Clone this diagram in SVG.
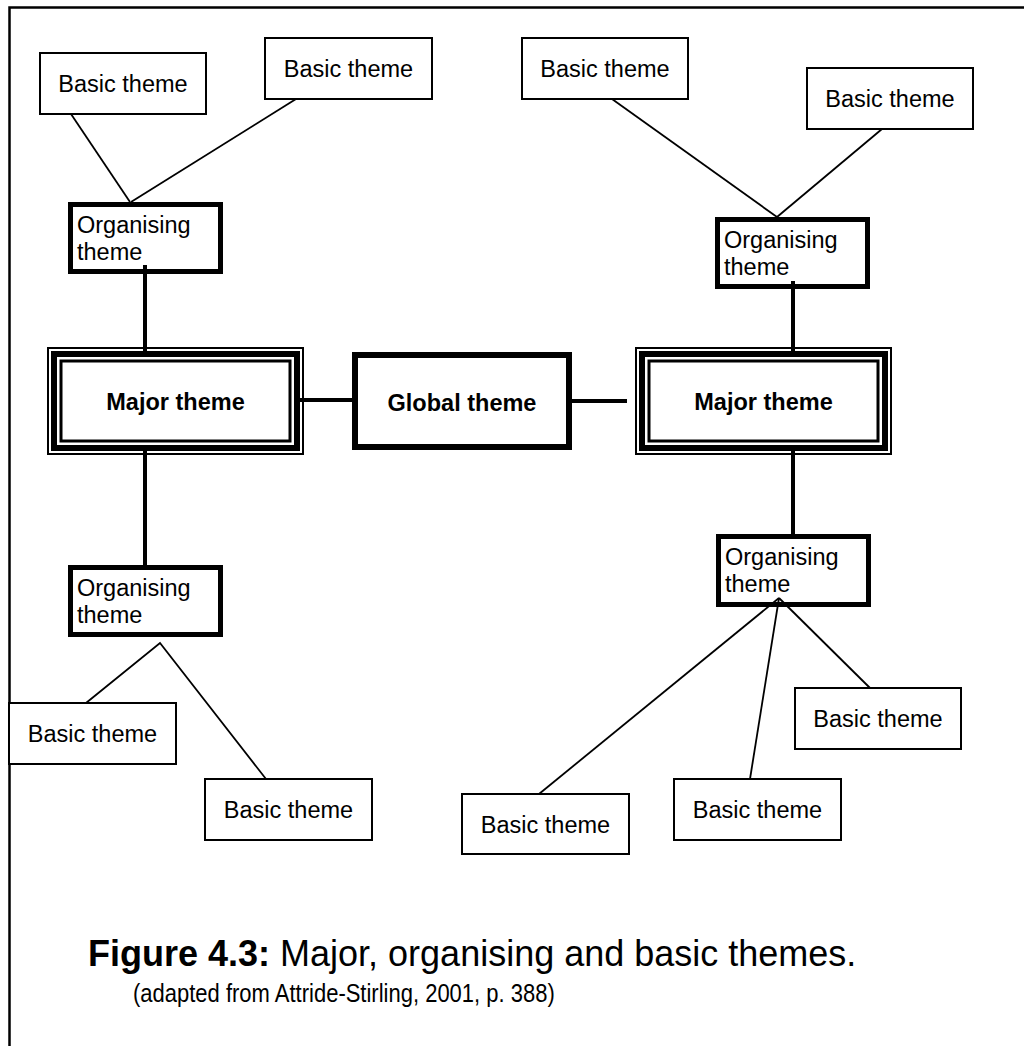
<svg xmlns="http://www.w3.org/2000/svg" width="1024" height="1046" viewBox="0 0 1024 1046">
<style>
  text { font-family: "Liberation Sans", Arial, sans-serif; fill: #000; }
  .lbl { font-size: 23.5px; }
  .mid { text-anchor: middle; }
  .bold { font-weight: bold; }
  .basic { fill: #fff; stroke: #000; stroke-width: 2; }
  .org { fill: #fff; stroke: #000; stroke-width: 5; }
  .glob { fill: #fff; stroke: #000; stroke-width: 6; }
  .m1 { fill: #fff; stroke: #000; stroke-width: 2; }
  .m2 { fill: none; stroke: #000; stroke-width: 6; }
  .m3 { fill: none; stroke: #000; stroke-width: 3; }
  .thin { stroke: #000; stroke-width: 1.8; fill: none; }
  .thick { stroke: #000; stroke-width: 4; fill: none; }
  .frame { stroke: #000; stroke-width: 2.5; fill: none; }
</style>
<rect x="0" y="0" width="1024" height="1046" fill="#fff"/>
<g id="frame">
  <path class="frame" d="M9.5,1046 V7.5 H1024"/>
</g>

<g id="basic1"><rect class="basic" x="40" y="53" width="166" height="61"/><text class="lbl mid" x="123" y="92">Basic theme</text></g>
<g id="basic2"><rect class="basic" x="265" y="38" width="167" height="61"/><text class="lbl mid" x="348.5" y="77">Basic theme</text></g>
<g id="basic3"><rect class="basic" x="522" y="38" width="166" height="61"/><text class="lbl mid" x="605" y="77">Basic theme</text></g>
<g id="basic4"><rect class="basic" x="807" y="68" width="166" height="61"/><text class="lbl mid" x="890" y="107">Basic theme</text></g>
<g id="basic5"><rect class="basic" x="9" y="703" width="167" height="61"/><text class="lbl mid" x="92.5" y="742">Basic theme</text></g>
<g id="basic6"><rect class="basic" x="205" y="779" width="167" height="61"/><text class="lbl mid" x="288.5" y="818">Basic theme</text></g>
<g id="basic7"><rect class="basic" x="795" y="688" width="166" height="61"/><text class="lbl mid" x="878" y="727">Basic theme</text></g>
<g id="basic8"><rect class="basic" x="674" y="779" width="167" height="61"/><text class="lbl mid" x="757.5" y="818">Basic theme</text></g>
<g id="basic9"><rect class="basic" x="462" y="794" width="167" height="60"/><text class="lbl mid" x="545.5" y="832.5">Basic theme</text></g>

<g id="org-tl"><rect class="org" x="70.5" y="204.5" width="150" height="67"/><text class="lbl" x="77" y="233">Organising</text><text class="lbl" x="77" y="260">theme</text></g>
<g id="org-tr"><rect class="org" x="717.5" y="219.5" width="150" height="67"/><text class="lbl" x="724" y="248">Organising</text><text class="lbl" x="724" y="275">theme</text></g>
<g id="org-bl"><rect class="org" x="70.5" y="567.5" width="150" height="67"/><text class="lbl" x="77" y="596">Organising</text><text class="lbl" x="77" y="623">theme</text></g>
<g id="org-br"><rect class="org" x="718.5" y="536.5" width="150" height="68"/><text class="lbl" x="725" y="565">Organising</text><text class="lbl" x="725" y="592">theme</text></g>

<g id="major-left">
  <rect class="m1" x="48" y="348" width="255" height="106"/>
  <rect class="m2" x="54" y="354" width="243" height="94"/>
  <rect class="m3" x="61" y="361" width="229" height="80"/>
  <text class="lbl mid bold" x="175.5" y="410">Major theme</text>
</g>
<g id="major-right">
  <rect class="m1" x="636" y="348" width="255" height="106"/>
  <rect class="m2" x="642" y="354" width="243" height="94"/>
  <rect class="m3" x="649" y="361" width="229" height="80"/>
  <text class="lbl mid bold" x="763.5" y="410">Major theme</text>
</g>
<g id="global">
  <rect class="glob" x="355" y="355" width="214" height="92"/>
  <text class="lbl mid bold" x="462" y="411">Global theme</text>
</g>

<g id="connectors">
  <line class="thin" x1="71" y1="114" x2="130" y2="202"/>
  <line class="thin" x1="296" y1="99" x2="131" y2="202"/>
  <line class="thin" x1="612" y1="99" x2="777" y2="217"/>
  <line class="thin" x1="882" y1="129" x2="777" y2="217"/>
  <polyline class="thin" points="86,703 160,643 266,779"/>
  <line class="thin" x1="539" y1="794" x2="779" y2="598"/>
  <line class="thin" x1="750" y1="779" x2="779" y2="598"/>
  <line class="thin" x1="870" y1="688" x2="779" y2="598"/>
  <line class="thick" x1="145" y1="265" x2="145" y2="352"/>
  <line class="thick" x1="145" y1="449" x2="145" y2="567"/>
  <line class="thick" x1="793" y1="281" x2="793" y2="352"/>
  <line class="thick" x1="793" y1="449" x2="793" y2="536"/>
  <line class="thick" x1="300" y1="400" x2="355" y2="400"/>
  <line class="thick" x1="569" y1="401" x2="627" y2="401"/>
</g>

<g id="caption">
  <text x="88" y="966" style="font-size:36px"><tspan font-weight="bold">Figure 4.3:</tspan> Major, organising and basic themes.</text>
  <text transform="translate(133,1002) scale(0.846,1)" style="font-size:26px">(adapted from Attride-Stirling, 2001, p. 388)</text>
</g>
</svg>
